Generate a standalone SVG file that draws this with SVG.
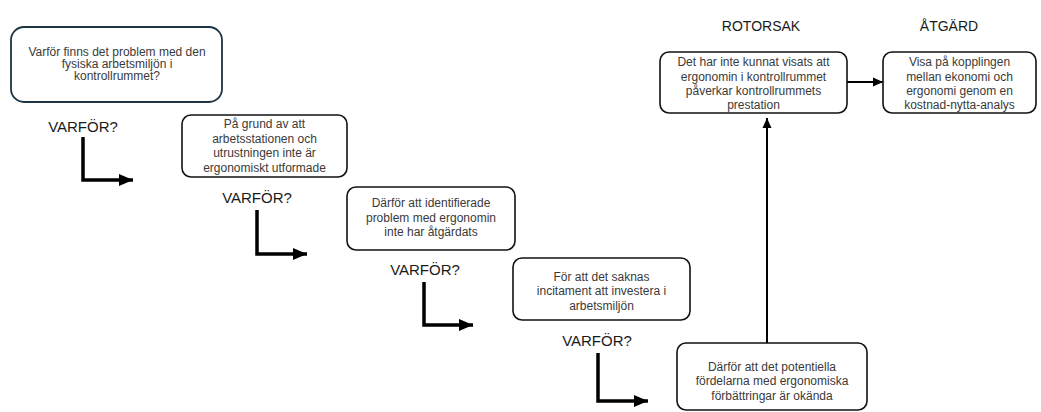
<svg xmlns="http://www.w3.org/2000/svg" width="1041" height="412" viewBox="0 0 1041 412">
  <style>
    .box { fill: #ffffff; stroke: #111111; stroke-width: 1.6; }
    .box1 { fill: #ffffff; stroke: #1c3444; stroke-width: 1.8; }
    .t { font-family: "Liberation Sans", Arial, sans-serif; font-size: 12px; fill: #3a3a3a; text-anchor: middle; }
    .why { font-family: "Liberation Sans", Arial, sans-serif; font-size: 15px; fill: #1a1a1a; text-anchor: middle; }
    .head { font-family: "Liberation Sans", Arial, sans-serif; font-size: 14px; fill: #1a1a1a; text-anchor: middle; }
    .thick { fill: none; stroke: #000000; stroke-width: 3.5; }
    .thin { fill: none; stroke: #000000; stroke-width: 2; }
  </style>
  <defs>
    <marker id="bigHead" markerUnits="userSpaceOnUse" markerWidth="14" markerHeight="14" viewBox="0 0 14 14" refX="14" refY="7" orient="auto">
      <path d="M0,1 L14,7 L0,13 Z" fill="#000000"/>
    </marker>
    <marker id="smallHead" markerUnits="userSpaceOnUse" markerWidth="10" markerHeight="10" viewBox="0 0 10 10" refX="10" refY="5" orient="auto">
      <path d="M0,0.5 L10,5 L0,9.5 Z" fill="#000000"/>
    </marker>
  </defs>

  <rect width="1041" height="412" fill="#ffffff"/>

  <!-- column headers -->
  <text class="head" x="761" y="31">ROTORSAK</text>
  <text class="head" x="949" y="31">ÅTGÄRD</text>

  <!-- "VARFÖR?" labels -->
  <g id="why-labels">
    <text class="why" x="83" y="132">VARFÖR?</text>
    <text class="why" x="257" y="203">VARFÖR?</text>
    <text class="why" x="425" y="275">VARFÖR?</text>
    <text class="why" x="597" y="346">VARFÖR?</text>
  </g>

  <g id="connectors">
    <path class="thick" d="M83,137 V180 H133" marker-end="url(#bigHead)"/>
    <path class="thick" d="M257,210 V254 H307" marker-end="url(#bigHead)"/>
    <path class="thick" d="M424,282 V325 H473" marker-end="url(#bigHead)"/>
    <path class="thick" d="M598,353 V401 H648" marker-end="url(#bigHead)"/>
    <path class="thin" d="M767,343 V118" marker-end="url(#smallHead)"/>
    <path class="thin" d="M847,82 H883" marker-end="url(#smallHead)"/>
  </g>

  <g id="question">
    <rect class="box1" x="11" y="27" width="211" height="75" rx="13"/>
    <text class="t" x="117" y="56">Varför finns det problem med den</text>
    <text class="t" x="117" y="68">fysiska arbetsmiljön i</text>
    <text class="t" x="117" y="80">kontrollrummet?</text>
  </g>

  <g id="why1">
    <rect class="box" x="182" y="115" width="165" height="62" rx="9"/>
    <text class="t" x="264.5" y="128">På grund av att</text>
    <text class="t" x="264.5" y="142.5">arbetsstationen och</text>
    <text class="t" x="264.5" y="157">utrustningen inte är</text>
    <text class="t" x="264.5" y="171.5">ergonomiskt utformade</text>
  </g>

  <g id="why2">
    <rect class="box" x="347" y="187" width="168" height="63" rx="9"/>
    <text class="t" x="431" y="207">Därför att identifierade</text>
    <text class="t" x="431" y="221.5">problem med ergonomin</text>
    <text class="t" x="431" y="236">inte har åtgärdats</text>
  </g>

  <g id="why3">
    <rect class="box" x="513" y="258" width="177" height="62" rx="9"/>
    <text class="t" x="601.5" y="281">För att det saknas</text>
    <text class="t" x="601.5" y="295">incitament att investera i</text>
    <text class="t" x="601.5" y="309.5">arbetsmiljön</text>
  </g>

  <g id="why4">
    <rect class="box" x="677" y="343" width="190" height="67" rx="9"/>
    <text class="t" x="772" y="371">Därför att det potentiella</text>
    <text class="t" x="772" y="385">fördelarna med ergonomiska</text>
    <text class="t" x="772" y="399.5">förbättringar är okända</text>
  </g>

  <g id="root-cause">
    <rect class="box" x="660" y="52" width="187" height="61" rx="9"/>
    <text class="t" x="753.5" y="66">Det har inte kunnat visats att</text>
    <text class="t" x="753.5" y="80.5">ergonomin i kontrollrummet</text>
    <text class="t" x="753.5" y="95">påverkar kontrollrummets</text>
    <text class="t" x="753.5" y="109">prestation</text>
  </g>

  <g id="action">
    <rect class="box" x="883" y="52" width="153" height="61" rx="9"/>
    <text class="t" x="959.5" y="66">Visa på kopplingen</text>
    <text class="t" x="959.5" y="80.5">mellan ekonomi och</text>
    <text class="t" x="959.5" y="95">ergonomi genom en</text>
    <text class="t" x="959.5" y="109">kostnad-nytta-analys</text>
  </g>
</svg>
